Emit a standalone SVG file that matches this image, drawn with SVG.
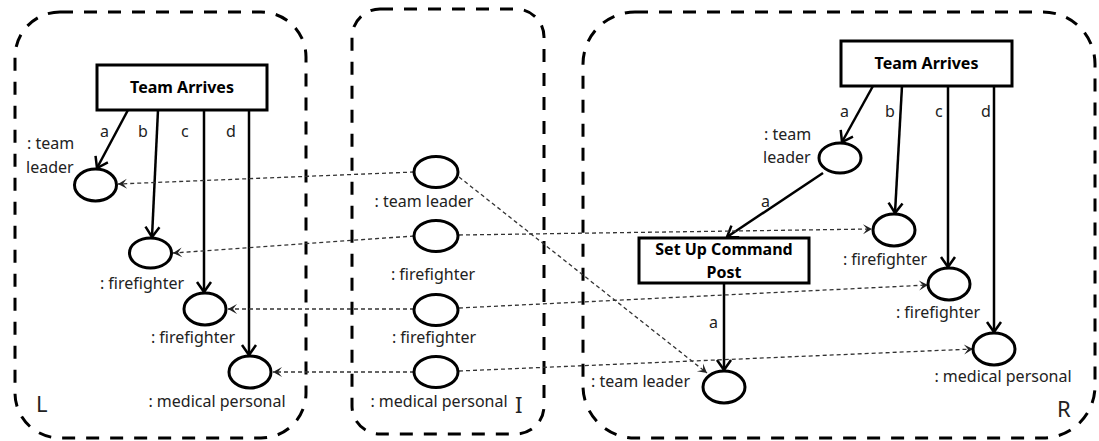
<svg xmlns="http://www.w3.org/2000/svg" width="1099" height="441" viewBox="0 0 1099 441">
<style>
.cont{fill:none;stroke:#000;stroke-width:3;stroke-dasharray:13 11}
.box{fill:#fff;stroke:#000;stroke-width:3}
.ell{fill:#fff;stroke:#000;stroke-width:3}
.sol{fill:none;stroke:#000;stroke-width:2.5;marker-end:url(#arr)}
.map{fill:none;stroke:#333;stroke-width:1.3;stroke-dasharray:4 3;marker-end:url(#darr)}
text{font-family:"Noto Sans","Open Sans",sans-serif;font-size:16px;fill:#222}
.b{font-weight:bold;fill:#000}
.big{font-size:22px}
.m{text-anchor:middle}
.e{text-anchor:end}
</style>
<defs>
<marker id="arr" markerUnits="userSpaceOnUse" viewBox="-13 -9 15 18" refX="0" refY="0" markerWidth="15" markerHeight="18" orient="auto" overflow="visible">
<path d="M-10,-7 L0,0 L-10,7" fill="none" stroke="#000" stroke-width="2.5" stroke-linejoin="miter"/>
</marker>
<marker id="darr" markerUnits="userSpaceOnUse" viewBox="-10 -6 11 12" refX="0" refY="0" markerWidth="11" markerHeight="12" orient="auto" overflow="visible">
<path d="M0,0 L-9,-5 L-5,0 L-9,5 z" fill="#222"/>
</marker>
</defs>

<g id="container-L">
<rect class="cont" x="15" y="12" width="291" height="426" rx="45"/>
<text class="big" x="36" y="412">L</text>
</g>
<g id="container-I">
<rect class="cont" x="352" y="9" width="192" height="425" rx="28"/>
<text class="big" x="515" y="413">I</text>
</g>
<g id="container-R">
<rect class="cont" x="583" y="12" width="512" height="426" rx="52"/>
<text class="big" x="1057" y="417">R</text>
</g>

<g id="connectors">
<line class="sol" x1="128" y1="110" x2="97" y2="168"/>
<line class="sol" x1="158" y1="110" x2="152" y2="237"/>
<line class="sol" x1="204" y1="110" x2="204" y2="292"/>
<line class="sol" x1="249" y1="110" x2="249" y2="355"/>
<line class="sol" x1="873" y1="86" x2="842" y2="142"/>
<line class="sol" x1="902" y1="86" x2="895" y2="213"/>
<line class="sol" x1="948" y1="86" x2="948" y2="267"/>
<line class="sol" x1="994" y1="86" x2="994" y2="332"/>
<line class="sol" x1="823" y1="173" x2="727" y2="237"/>
<line class="sol" x1="724" y1="283" x2="724" y2="370"/>
<line class="map" x1="414" y1="172" x2="118" y2="184"/>
<line class="map" x1="459" y1="177" x2="707" y2="373"/>
<line class="map" x1="414" y1="236" x2="173" y2="253"/>
<line class="map" x1="459" y1="235" x2="872" y2="229"/>
<line class="map" x1="414" y1="309" x2="228" y2="309"/>
<line class="map" x1="459" y1="308" x2="928" y2="285"/>
<line class="map" x1="414" y1="372" x2="273" y2="372"/>
<line class="map" x1="459" y1="371" x2="973" y2="349"/>
<text x="100" y="137">a</text>
<text x="138" y="137">b</text>
<text x="181" y="137">c</text>
<text x="226" y="137">d</text>
<text x="840" y="117">a</text>
<text x="885" y="117">b</text>
<text x="935" y="117">c</text>
<text x="981" y="117">d</text>
<text x="761" y="207">a</text>
<text x="709" y="328">a</text>
</g>

<g id="L-team-arrives">
<rect class="box" x="97" y="65" width="170" height="45"/>
<text class="b m" x="182" y="93">Team Arrives</text>
</g>
<g id="L-team-leader">
<ellipse class="ell" cx="95.5" cy="185" rx="21" ry="16"/>
<text x="27" y="149">: team</text>
<text x="26" y="173">leader</text>
</g>
<g id="L-firefighter-1">
<ellipse class="ell" cx="150.5" cy="253" rx="21" ry="15"/>
<text class="m" x="142" y="289">: firefighter</text>
</g>
<g id="L-firefighter-2">
<ellipse class="ell" cx="205" cy="309" rx="21" ry="16"/>
<text class="m" x="193" y="343">: firefighter</text>
</g>
<g id="L-medical">
<ellipse class="ell" cx="250" cy="372" rx="21" ry="16"/>
<text class="m" x="217" y="407">: medical personal</text>
</g>

<g id="I-team-leader">
<ellipse class="ell" cx="436" cy="172" rx="22" ry="15.5"/>
<text class="m" x="424" y="207">: team leader</text>
</g>
<g id="I-firefighter-1">
<ellipse class="ell" cx="436" cy="236" rx="22" ry="15.5"/>
<text class="m" x="433" y="280">: firefighter</text>
</g>
<g id="I-firefighter-2">
<ellipse class="ell" cx="436" cy="310" rx="22" ry="15.5"/>
<text class="m" x="434" y="343">: firefighter</text>
</g>
<g id="I-medical">
<ellipse class="ell" cx="436" cy="372" rx="22" ry="15.5"/>
<text class="m" x="439" y="407">: medical personal</text>
</g>

<g id="R-team-arrives">
<rect class="box" x="841" y="41" width="171" height="45"/>
<text class="b m" x="926.5" y="69">Team Arrives</text>
</g>
<g id="R-team-leader">
<ellipse class="ell" cx="840" cy="158" rx="21" ry="15"/>
<text x="764" y="140">: team</text>
<text x="763" y="163">leader</text>
</g>
<g id="R-set-up-command-post">
<rect class="box" x="639" y="238" width="170" height="45"/>
<text class="b m" x="724" y="255">Set Up Command</text>
<text class="b m" x="724" y="278">Post</text>
</g>
<g id="R-team-leader-2">
<ellipse class="ell" cx="724" cy="387" rx="21" ry="16"/>
<text class="e" x="690" y="387">: team leader</text>
</g>
<g id="R-firefighter-1">
<ellipse class="ell" cx="894" cy="230" rx="21" ry="16"/>
<text class="m" x="885" y="265">: firefighter</text>
</g>
<g id="R-firefighter-2">
<ellipse class="ell" cx="949" cy="284" rx="21" ry="16"/>
<text class="m" x="938" y="318">: firefighter</text>
</g>
<g id="R-medical">
<ellipse class="ell" cx="994" cy="349" rx="21" ry="16"/>
<text class="m" x="1003" y="382">: medical personal</text>
</g>
</svg>
